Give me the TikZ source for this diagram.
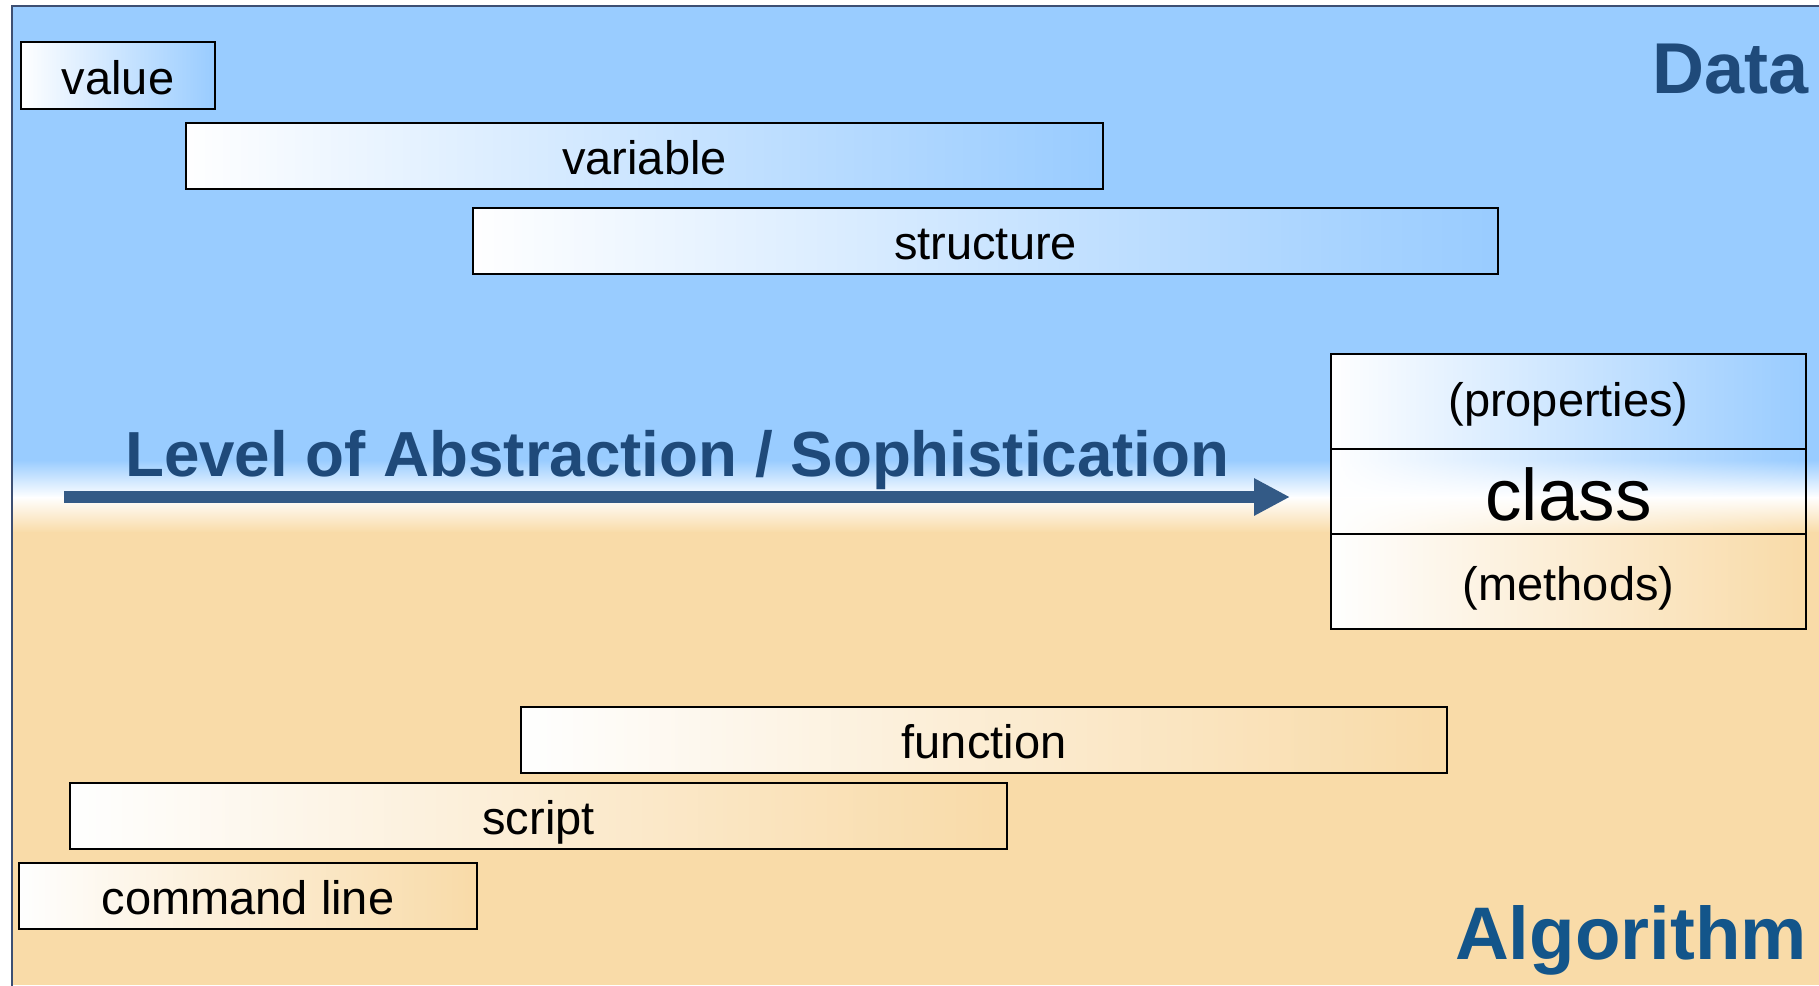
\documentclass[tikz,border=0pt]{standalone}
\usepackage{fontspec}
\setmainfont{Liberation Sans}
\usetikzlibrary{arrows.meta,fadings}
\definecolor{bgblue}{HTML}{99CCFF}
\definecolor{bgpeach}{HTML}{F9DBA8}
\definecolor{framec}{HTML}{3D4F73}
\definecolor{datac}{HTML}{1F4A7A}
\definecolor{algc}{HTML}{13558A}
\definecolor{arrowc}{HTML}{335A86}
\tikzfading[name=fadeR, left color=transparent!0, right color=transparent!100]
\tikzset{
  boxbase/.style={draw=black, line width=2pt, inner sep=0pt,
    preaction={fill=white, path fading=fadeR}},
  tbox/.style={boxbase, font=\fontsize{47}{56}\selectfont,
    text height=45pt, text depth=7.9pt},
  bigbox/.style={boxbase, font=\fontsize{73}{86}\selectfont,
    text height=70pt, text depth=12.5pt},
  title/.style={font=\fontsize{#1}{#1}\selectfont\bfseries, inner sep=0pt}
}
\begin{document}
\begin{tikzpicture}[x=1pt,y=-1pt]
\useasboundingbox (0,0) rectangle (1819,985);
\clip (0,0) rectangle (1819,985);
% background
\fill[bgblue] (11.7,5.7) rectangle (1819,460.5);
\shade[top color=bgblue, bottom color=white] (11.7,460) rectangle (1819,497.5);
\shade[top color=white, bottom color=bgpeach] (11.7,497) rectangle (1819,532.5);
\fill[bgpeach] (11.7,532) rectangle (1819,985);
\draw[framec, line width=2pt] (11.7,990) -- (11.7,5.7) -- (1825,5.7);
% data boxes
\node[tbox, minimum width=194pt, minimum height=67pt] (value) at (118,75.5) {value};
\node[tbox, minimum width=917pt, minimum height=66pt] (variable) at (644.5,156) {variable};
\node[tbox, minimum width=1025pt, minimum height=66pt] (structure) at (985.5,241) {structure};
% class
\node[tbox, text height=41pt, text depth=12pt, minimum width=475pt, minimum height=95pt] (props) at (1568.5,401.5) {(properties)};
\node[bigbox, minimum width=475pt, minimum height=85pt] (class) at (1568.5,491.5) {class};
\node[tbox, minimum width=475pt, minimum height=95pt] (methods) at (1568.5,581.5) {(methods)};
% algorithm boxes
\node[tbox, minimum width=926pt, minimum height=66pt] (function) at (984,740) {function};
\node[tbox, minimum width=937pt, minimum height=66pt] (script) at (538.5,816) {script};
\node[tbox, minimum width=458pt, minimum height=66pt] (cmd) at (248,896) {command line};
% labels
\node[title=72, text=datac, anchor=base east] (data) at (1809,93) {Data};
\node[title=74.5, text=algc, anchor=base east] (alg) at (1807,959) {Algorithm};
\node[title=63.7, text=datac, anchor=base west] (level) at (125,476) {Level of Abstraction / Sophistication};
% arrow
\coordinate (as) at (64,497);
\coordinate (ae) at (1290,497);
\draw[arrowc, line width=11.5pt, -{Triangle[length=36pt,width=35pt]}] (as) -- (ae);
\end{tikzpicture}
\end{document}
